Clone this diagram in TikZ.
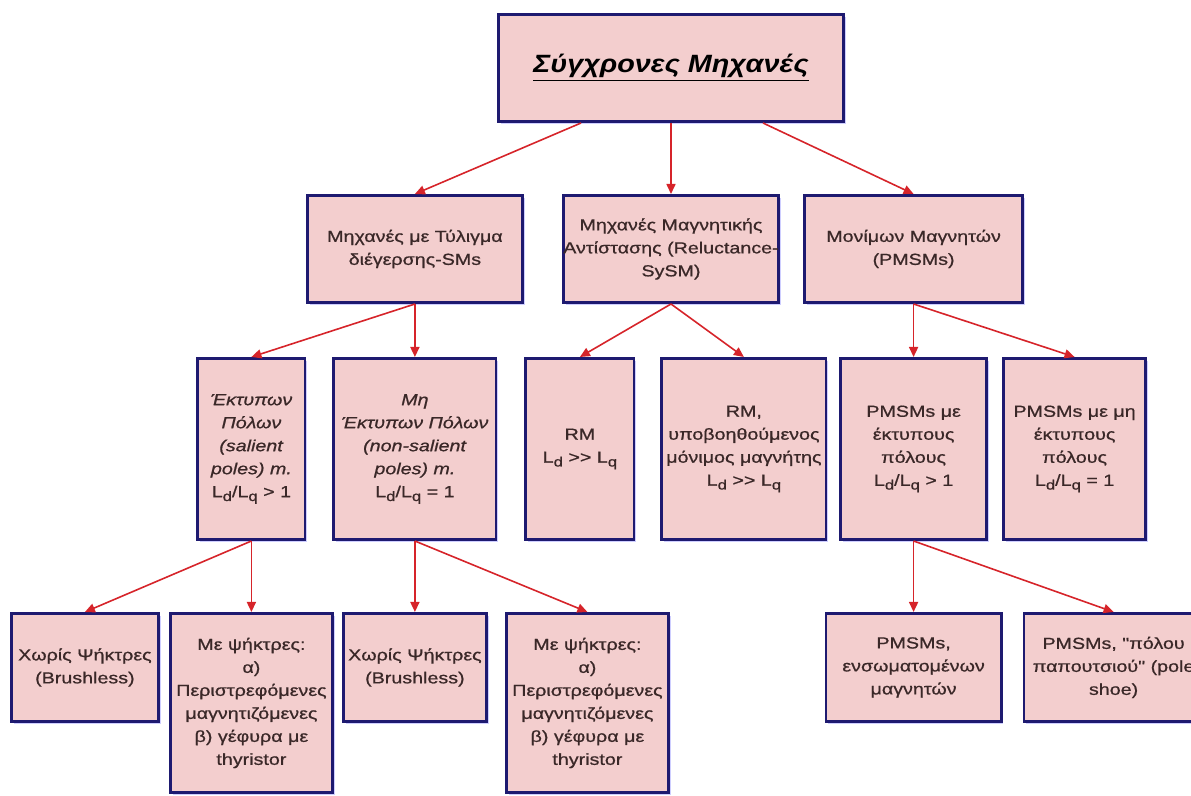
\documentclass[tikz,border=0pt]{standalone}
\usepackage{fontspec}
\setmainfont{Liberation Sans}[FakeStretch=1.15]
\newfontfamily\boxfont{Liberation Sans}[FakeStretch=1.23,FakeBold=0.8]
\usepackage{tikz}
\usetikzlibrary{positioning,arrows.meta,shadows}
\definecolor{rose}{RGB}{243,206,206}
\definecolor{navy}{RGB}{30,26,112}
\definecolor{crimson}{RGB}{214,36,42}
\definecolor{ink}{RGB}{58,40,40}
\newcommand{\lo}[1]{\raisebox{-0.45ex}{\fontsize{6.8}{7}\selectfont #1}}

\begin{document}
\begin{tikzpicture}[x=0.5pt,y=-0.5pt,>={Triangle[length=5pt,width=4.5pt]},
    box/.style={draw=navy,fill=rose,line width=1.4pt,align=center,text=ink,inner xsep=0pt,inner ysep=2pt,
      font=\boxfont\fontsize{8}{11.5}\selectfont,
      drop shadow={shadow xshift=1.1pt,shadow yshift=-1.1pt,opacity=0.35,fill=blue!55!white}},
    link/.style={->,draw=crimson,line width=0.8pt}]
    \useasboundingbox (0,0) rectangle (1191,796);
    \node[box,minimum width=172.6pt,minimum height=53.6pt,text=black,
        font=\fontsize{12.5}{15}\selectfont\bfseries\itshape] (sm) at (671,68)
        {\underline{Σύγχρονες Μηχανές}};
    \node[box,minimum width=107.6pt,minimum height=53.6pt,below=35.5pt of sm] (rel)
        {Μηχανές Μαγνητικής\\Αντίστασης (Reluctance-\\SySM)};
    \node[box,minimum width=107.6pt,minimum height=53.6pt,left=19pt of rel] (wf)
        {Μηχανές με Τύλιγμα\\διέγερσης-SMs};
    \node[box,minimum width=109.1pt,minimum height=53.6pt,right=11.5pt of rel] (pm)
        {Μονίμων Μαγνητών\\(PMSMs)};
    \node[box,minimum width=81.1pt,minimum height=90.6pt,below=26.5pt of wf] (nsal)
        {\textit{Μη}\\\textit{Έκτυπων Πόλων}\\\textit{(non-salient}\\\textit{poles) m.}\\L\lo{d}/L\lo{q} = 1};
    \node[box,minimum width=53.6pt,minimum height=90.6pt,left=13pt of nsal] (sal)
        {\textit{Έκτυπων}\\\textit{Πόλων}\\\textit{(salient}\\\textit{poles) m.}\\L\lo{d}/L\lo{q} > 1};
    \node[box,minimum width=54.1pt,minimum height=90.6pt,right=13.5pt of nsal] (rm)
        {RM\\L\lo{d} >{}> L\lo{q}};
    \node[box,minimum width=82.1pt,minimum height=90.6pt,right=12.5pt of rm] (rmpm)
        {RM,\\υποβοηθούμενος\\μόνιμος μαγνήτης\\L\lo{d} >{}> L\lo{q}};
    \node[box,minimum width=73.1pt,minimum height=90.6pt,below=26.5pt of pm] (pmsal)
        {PMSMs με\\έκτυπους\\πόλους\\L\lo{d}/L\lo{q} > 1};
    \node[box,minimum width=71.1pt,minimum height=90.6pt,right=7pt of pmsal] (pmnsal)
        {PMSMs με μη\\έκτυπους\\πόλους\\L\lo{d}/L\lo{q} = 1};
    \node[box,minimum width=81.1pt,minimum height=89.6pt,below=35.5pt of sal] (br1)
        {Με ψήκτρες:\\α)\\Περιστρεφόμενες\\μαγνητιζόμενες\\β) γέφυρα με\\thyristor};
    \node[box,minimum width=73.6pt,minimum height=54.1pt,below left=0pt and 4.5pt of br1.north west] (bl1)
        {Χωρίς Ψήκτρες\\(Brushless)};
    \node[box,minimum width=71.6pt,minimum height=54.1pt,below=35.5pt of nsal] (bl2)
        {Χωρίς Ψήκτρες\\(Brushless)};
    \node[box,minimum width=81.1pt,minimum height=89.6pt,below right=0pt and 8.5pt of bl2.north east] (br2)
        {Με ψήκτρες:\\α)\\Περιστρεφόμενες\\μαγνητιζόμενες\\β) γέφυρα με\\thyristor};
    \node[box,minimum width=87.6pt,minimum height=54.1pt,below=35.5pt of pmsal] (ipm)
        {PMSMs,\\ενσωματομένων\\μαγνητών};
    \node[box,minimum width=89.6pt,minimum height=54.1pt,right=10pt of ipm] (shoe)
        {PMSMs, "πόλου\\παπουτσιού" (pole\\shoe)};
    \draw[link] ([xshift=-45pt]sm.south) -- (wf.north);
    \draw[link] (sm.south) -- (rel.north);
    \draw[link] ([xshift=46pt]sm.south) -- (pm.north);
    \draw[link] (wf.south) -- (sal.north);
    \draw[link] (wf.south) -- (nsal.north);
    \draw[link] (rel.south) -- (rm.north);
    \draw[link] (rel.south) -- (rmpm.north);
    \draw[link] (pm.south) -- (pmsal.north);
    \draw[link] (pm.south) -- (pmnsal.north);
    \draw[link] (sal.south) -- (bl1.north);
    \draw[link] (sal.south) -- (br1.north);
    \draw[link] (nsal.south) -- (bl2.north);
    \draw[link] (nsal.south) -- (br2.north);
    \draw[link] (pmsal.south) -- (ipm.north);
    \draw[link] (pmsal.south) -- (shoe.north);
  \end{tikzpicture}
\end{document}
